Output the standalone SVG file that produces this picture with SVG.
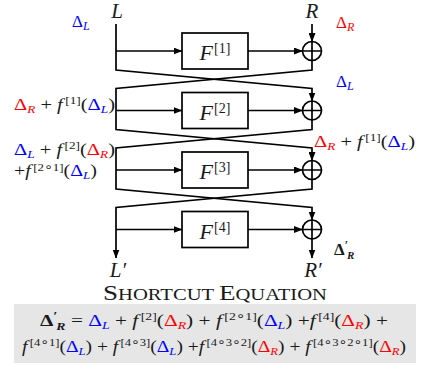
<svg xmlns="http://www.w3.org/2000/svg" width="422" height="366" viewBox="0 0 422 366">
<style>
.ln{fill:none;stroke:#000;stroke-width:1.7}
.bx{fill:#fff;stroke:#000;stroke-width:1.7}
.m{font-family:"Liberation Serif","DejaVu Serif",serif;fill:#1a1a1a}
.i{font-style:italic}
.b{fill:#0000ff}
.r{fill:#ff0000}
.bd{font-weight:bold}
.c{font-family:"DejaVu Sans",sans-serif;font-size:12px}
</style>
<defs>
<marker id="ah" markerWidth="9" markerHeight="7" refX="8.5" refY="3.5" orient="auto" markerUnits="userSpaceOnUse"><path d="M0,0 L9,3.5 L0,7 z" fill="#000"/></marker>
</defs>
<rect x="14" y="304" width="402" height="59" fill="#e6e6e6"/>
<g id="connectors" class="ln">
<path d="M116,24 V70 L312,88.5 V101" marker-end="url(#ah)"/>
<path d="M312,24 V41.5" marker-end="url(#ah)"/>
<path d="M312,60.5 V70 L116,88.5 V129.5 L312,148 V160.5" marker-end="url(#ah)"/>
<path d="M312,120 V129.5 L116,148 V189 L312,207.5 V220" marker-end="url(#ah)"/>
<path d="M312,179.5 V189 L116,207.5 V258" marker-end="url(#ah)"/>
<path d="M312,239 V258" marker-end="url(#ah)"/>
<path d="M116,51 H182" marker-end="url(#ah)"/>
<path d="M248,51 H302.5" marker-end="url(#ah)"/>
<path d="M116,110.5 H182" marker-end="url(#ah)"/>
<path d="M248,110.5 H302.5" marker-end="url(#ah)"/>
<path d="M116,170 H182" marker-end="url(#ah)"/>
<path d="M248,170 H302.5" marker-end="url(#ah)"/>
<path d="M116,229.5 H182" marker-end="url(#ah)"/>
<path d="M248,229.5 H302.5" marker-end="url(#ah)"/>
</g>
<g id="F1"><rect class="bx" x="182" y="33" width="66" height="36"/><text class="m" x="215" y="60" text-anchor="middle" font-size="22"><tspan class="i">F</tspan><tspan font-size="14" dx="1" dy="-7">[1]</tspan></text></g>
<g id="F2"><rect class="bx" x="182" y="92.5" width="66" height="36"/><text class="m" x="215" y="119.5" text-anchor="middle" font-size="22"><tspan class="i">F</tspan><tspan font-size="14" dx="1" dy="-7">[2]</tspan></text></g>
<g id="F3"><rect class="bx" x="182" y="152" width="66" height="36"/><text class="m" x="215" y="179" text-anchor="middle" font-size="22"><tspan class="i">F</tspan><tspan font-size="14" dx="1" dy="-7">[3]</tspan></text></g>
<g id="F4"><rect class="bx" x="182" y="211.5" width="66" height="36"/><text class="m" x="215" y="238.5" text-anchor="middle" font-size="22"><tspan class="i">F</tspan><tspan font-size="14" dx="1" dy="-7">[4]</tspan></text></g>
<g id="xor1" class="ln"><circle cx="312" cy="51" r="9.5"/><path d="M302.5,51 H321.5 M312,41.5 V60.5"/></g>
<g id="xor2" class="ln"><circle cx="312" cy="110.5" r="9.5"/><path d="M302.5,110.5 H321.5 M312,101 V120"/></g>
<g id="xor3" class="ln"><circle cx="312" cy="170" r="9.5"/><path d="M302.5,170 H321.5 M312,160.5 V179.5"/></g>
<g id="xor4" class="ln"><circle cx="312" cy="229.5" r="9.5"/><path d="M302.5,229.5 H321.5 M312,220 V239"/></g>
<g id="labels">
<text class="m i" x="117" y="18" text-anchor="middle" font-size="21">L</text>
<text class="m i" x="312" y="18" text-anchor="middle" font-size="21">R</text>
<text class="m i" x="118" y="277" text-anchor="middle" font-size="21">L′</text>
<text class="m i" x="313" y="277" text-anchor="middle" font-size="21">R′</text>
<text class="m" x="72" y="27" font-size="17"><tspan class="b">Δ</tspan><tspan class="b i" font-size="12" dy="3">L</tspan></text>
<text class="m" x="336" y="28" font-size="17"><tspan class="r">Δ</tspan><tspan class="r i" font-size="12" dy="3">R</tspan></text>
<text class="m" x="336" y="87" font-size="17"><tspan class="b">Δ</tspan><tspan class="b i" font-size="12" dy="3">L</tspan></text>
<text class="m" x="14" y="110" font-size="17" textLength="101" lengthAdjust="spacingAndGlyphs"><tspan class="r">Δ</tspan><tspan class="r i" font-size="11" dy="3">R</tspan><tspan dy="-3"> + </tspan><tspan class="i">f</tspan><tspan font-size="11" dx="2" dy="-6">[1]</tspan><tspan dy="6">(</tspan><tspan class="b">Δ</tspan><tspan class="b i" font-size="11" dy="3">L</tspan><tspan dy="-3">)</tspan></text>
<text class="m" x="314" y="147" font-size="17" textLength="101" lengthAdjust="spacingAndGlyphs"><tspan class="r">Δ</tspan><tspan class="r i" font-size="11" dy="3">R</tspan><tspan dy="-3"> + </tspan><tspan class="i">f</tspan><tspan font-size="11" dx="2" dy="-6">[1]</tspan><tspan dy="6">(</tspan><tspan class="b">Δ</tspan><tspan class="b i" font-size="11" dy="3">L</tspan><tspan dy="-3">)</tspan></text>
<text class="m" x="14" y="155" font-size="17" textLength="101" lengthAdjust="spacingAndGlyphs"><tspan class="b">Δ</tspan><tspan class="b i" font-size="11" dy="2.5">L</tspan><tspan dy="-2.5"> + </tspan><tspan class="i">f</tspan><tspan font-size="11" dx="2" dy="-6">[2]</tspan><tspan dy="6">(</tspan><tspan class="r">Δ</tspan><tspan class="r i" font-size="11" dy="2.5">R</tspan><tspan dy="-2.5">)</tspan></text>
<text class="m" x="14" y="176" font-size="17" textLength="83" lengthAdjust="spacingAndGlyphs"><tspan>+</tspan><tspan class="i">f</tspan><tspan font-size="11" dx="2" dy="-5.5">[2<tspan class="c">∘</tspan>1]</tspan><tspan dy="5.5">(</tspan><tspan class="b">Δ</tspan><tspan class="b i" font-size="11" dy="3">L</tspan><tspan dy="-3">)</tspan></text>
<text class="m" x="334" y="255" font-size="17"><tspan class="bd">Δ</tspan><tspan class="bd" font-size="12" dy="-6">′</tspan><tspan class="bd i" font-size="11" dx="-1" dy="10">R</tspan></text>
</g>
<g id="equation">
<text class="m" x="103" y="300" font-size="21" textLength="224" lengthAdjust="spacingAndGlyphs"><tspan>S</tspan><tspan font-size="16">HORTCUT </tspan><tspan>E</tspan><tspan font-size="16">QUATION</tspan></text>
<text class="m" x="40" y="326" font-size="17" textLength="348" lengthAdjust="spacingAndGlyphs"><tspan class="bd">Δ</tspan><tspan class="bd" font-size="12" dy="-6">′</tspan><tspan class="bd i" font-size="11" dx="-1" dy="10">R</tspan><tspan dy="-4"> = </tspan><tspan class="b">Δ</tspan><tspan class="b i" font-size="11" dy="3">L</tspan><tspan dy="-3"> + </tspan><tspan class="i">f</tspan><tspan font-size="11" dx="2" dy="-6">[2]</tspan><tspan dy="6">(</tspan><tspan class="r">Δ</tspan><tspan class="r i" font-size="11" dy="3">R</tspan><tspan dy="-3">) + </tspan><tspan class="i">f</tspan><tspan font-size="11" dx="2" dy="-6">[2<tspan class="c">∘</tspan>1]</tspan><tspan dy="6">(</tspan><tspan class="b">Δ</tspan><tspan class="b i" font-size="11" dy="3">L</tspan><tspan dy="-3">) +</tspan><tspan class="i">f</tspan><tspan font-size="11" dx="2" dy="-6">[4]</tspan><tspan dy="6">(</tspan><tspan class="r">Δ</tspan><tspan class="r i" font-size="11" dy="3">R</tspan><tspan dy="-3">) +</tspan></text>
<text class="m" x="22" y="352" font-size="17" textLength="384" lengthAdjust="spacingAndGlyphs"><tspan class="i">f</tspan><tspan font-size="11" dx="2" dy="-6">[4<tspan class="c">∘</tspan>1]</tspan><tspan dy="6">(</tspan><tspan class="b">Δ</tspan><tspan class="b i" font-size="11" dy="3">L</tspan><tspan dy="-3">) + </tspan><tspan class="i">f</tspan><tspan font-size="11" dx="2" dy="-6">[4<tspan class="c">∘</tspan>3]</tspan><tspan dy="6">(</tspan><tspan class="b">Δ</tspan><tspan class="b i" font-size="11" dy="3">L</tspan><tspan dy="-3">) +</tspan><tspan class="i">f</tspan><tspan font-size="11" dx="2" dy="-6">[4<tspan class="c">∘</tspan>3<tspan class="c">∘</tspan>2]</tspan><tspan dy="6">(</tspan><tspan class="r">Δ</tspan><tspan class="r i" font-size="11" dy="3">R</tspan><tspan dy="-3">) + </tspan><tspan class="i">f</tspan><tspan font-size="11" dx="2" dy="-6">[4<tspan class="c">∘</tspan>3<tspan class="c">∘</tspan>2<tspan class="c">∘</tspan>1]</tspan><tspan dy="6">(</tspan><tspan class="r">Δ</tspan><tspan class="r i" font-size="11" dy="3">R</tspan><tspan dy="-3">)</tspan></text>
</g>
</svg>
